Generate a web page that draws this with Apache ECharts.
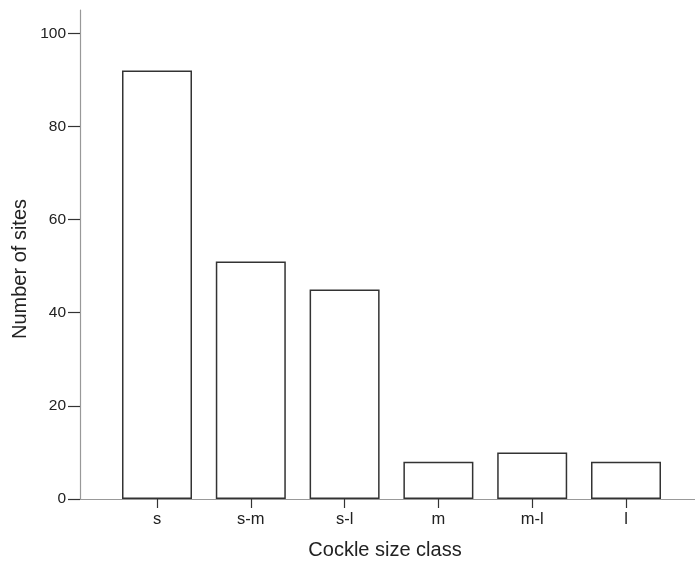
<!DOCTYPE html>
<html>
<head>
<meta charset="utf-8">
<script src="https://cdn.jsdelivr.net/npm/echarts@6/dist/echarts.min.js"></script>
<style>
html,body{margin:0;padding:0;background:#fff;}
#chart{width:695px;height:566px;}
</style>
</head>
<body>
<div id="chart"></div>
<script>
var categories = ['s', 's-m', 's-l', 'm', 'm-l', 'l'];
var siteCounts = [92, 51, 45, 8, 10, 8];
var yTicks = [0, 20, 40, 60, 80, 100];
var xTitle = 'Cockle size class';
var yTitle = 'Number of sites';

var positions = categories.map(function (c, i) { return i + 1; });
var barData = siteCounts.map(function (v, i) { return [positions[i], v]; });

var chart = echarts.init(document.getElementById('chart'), null, {renderer: 'canvas'});
var font = '"Liberation Sans", Arial, sans-serif';
chart.setOption({
  animation: false,
  backgroundColor: '#ffffff',
  grid: {left: 80, right: 0, top: 10, bottom: 67},
  xAxis: {
    type: 'value',
    min: 0.1791,
    max: 6.7356,
    splitLine: {show: false},
    axisLine: {show: true, lineStyle: {color: '#999999', width: 1.2}},
    axisTick: {show: true, length: 9, customValues: positions, lineStyle: {color: '#333333', width: 1.2}},
    axisLabel: {
      customValues: positions,
      color: '#222222', fontSize: 16.5, fontFamily: font, margin: 12,
      formatter: function (v) { return categories[Math.round(v) - 1] || ''; }
    }
  },
  yAxis: {
    type: 'value',
    min: 0,
    max: 105,
    splitLine: {show: false},
    axisLine: {show: true, lineStyle: {color: '#999999', width: 1.2}},
    axisTick: {show: true, length: 12, customValues: yTicks, lineStyle: {color: '#333333', width: 1.2}},
    axisLabel: {customValues: yTicks, color: '#222222', fontSize: 15.5, fontFamily: font, margin: 14}
  },
  series: [{
    type: 'bar',
    data: barData,
    barWidth: 70,
    itemStyle: {color: '#ffffff', borderColor: '#333333', borderWidth: 1.5}
  }],
  graphic: [
    {type: 'text', x: 20, y: 269, rotation: Math.PI / 2,
     style: {text: yTitle, font: '20px ' + font, fill: '#222222', align: 'center', verticalAlign: 'middle'}},
    {type: 'text', x: 385, y: 550,
     style: {text: xTitle, font: '20px ' + font, fill: '#222222', align: 'center', verticalAlign: 'middle'}}
  ]
});
</script>
</body>
</html>
